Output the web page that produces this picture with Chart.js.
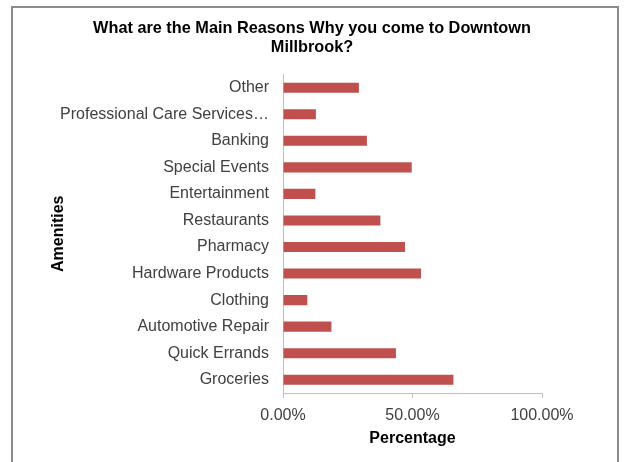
<!DOCTYPE html>
<html>
<head>
<meta charset="utf-8">
<script src="https://cdn.jsdelivr.net/npm/chart.js@4/dist/chart.umd.min.js"></script>
<style>
  html, body { margin: 0; padding: 0; background: #fff; }
  #wrap { position: relative; width: 624px; height: 462px; overflow: hidden; }
  #frame { position: absolute; left: 11px; top: 6px; width: 608px; height: 480px;
           border: 2px solid #8c8c8c; border-bottom: none; box-sizing: border-box; pointer-events: none; }
  canvas { position: absolute; left: 0; top: 0; }
</style>
</head>
<body>
<div id="wrap">
  <canvas id="c" width="624" height="462"></canvas>
  <div id="frame"></div>
</div>
<script>
const categories = [
  "Other",
  "Professional Care Services…",
  "Banking",
  "Special Events",
  "Entertainment",
  "Restaurants",
  "Pharmacy",
  "Hardware Products",
  "Clothing",
  "Automotive Repair",
  "Quick Errands",
  "Groceries"
];
const percentages = [29.3, 12.7, 32.4, 49.7, 12.5, 37.6, 47.1, 53.3, 9.4, 18.7, 43.6, 65.8];
const xTicks = [0, 50, 100];
const chartTitle = ["What are the Main Reasons Why you come to Downtown", "Millbrook?"];
const xTitle = "Percentage";
const yTitle = "Amenities";

const FONT = "'Liberation Sans', Arial, sans-serif";

new Chart(document.getElementById('c'), {
  type: 'bar',
  data: {
    labels: categories,
    datasets: [{
      label: 'Percentage',
      data: percentages,
      backgroundColor: '#C0504D',
      borderWidth: 0,
      categoryPercentage: 1.0,
      barPercentage: 0.38
    }]
  },
  options: {
    indexAxis: 'y',
    responsive: false,
    animation: false,
    devicePixelRatio: 1,
    layout: { padding: { left: 12, right: 12, top: 8, bottom: 14 } },
    plugins: {
      legend: { display: false },
      tooltip: { enabled: false },
      title: {
        display: true,
        text: chartTitle,
        color: '#000',
        font: { family: FONT, size: 16.3, weight: 'bold', lineHeight: 1.18 },
        padding: { top: 11, bottom: 17 }
      }
    },
    scales: {
      x: {
        min: 0, max: 100,
        afterBuildTicks: (s) => { s.ticks = xTicks.map(v => ({ value: v })); },
        afterFit: (s) => { s.height = 55; },
        ticks: {
          color: '#404040',
          font: { family: FONT, size: 16 },
          padding: 8,
          callback: (v) => Number(v).toFixed(2) + '%'
        },
        grid: { drawOnChartArea: false, drawTicks: true, tickLength: 5, color: '#bfbfbf' },
        border: { color: '#bfbfbf', width: 1 },
        title: {
          display: true, text: xTitle, color: '#000',
          font: { family: FONT, size: 16, weight: 'bold', lineHeight: 1.2 },
          padding: { top: 0, bottom: 0 }
        }
      },
      y: {
        afterFit: (s) => { s.width = 271; },
        ticks: {
          color: '#404040',
          font: { family: FONT, size: 16 },
          padding: 6,
          autoSkip: false
        },
        grid: { display: false },
        border: { display: true, color: '#bfbfbf', width: 1 },
        title: {
          display: true, text: yTitle, color: '#000',
          font: { family: FONT, size: 16, weight: 'bold', lineHeight: 1.2 },
          padding: { top: 37, bottom: 0 }
        }
      },
      yRight: {
        type: 'linear',
        position: 'right',
        display: true,
        afterFit: (s) => { s.width = 70; },
        ticks: { display: false },
        grid: { display: false },
        border: { display: false },
        title: { display: false }
      }
    }
  }
});
</script>
</body>
</html>
